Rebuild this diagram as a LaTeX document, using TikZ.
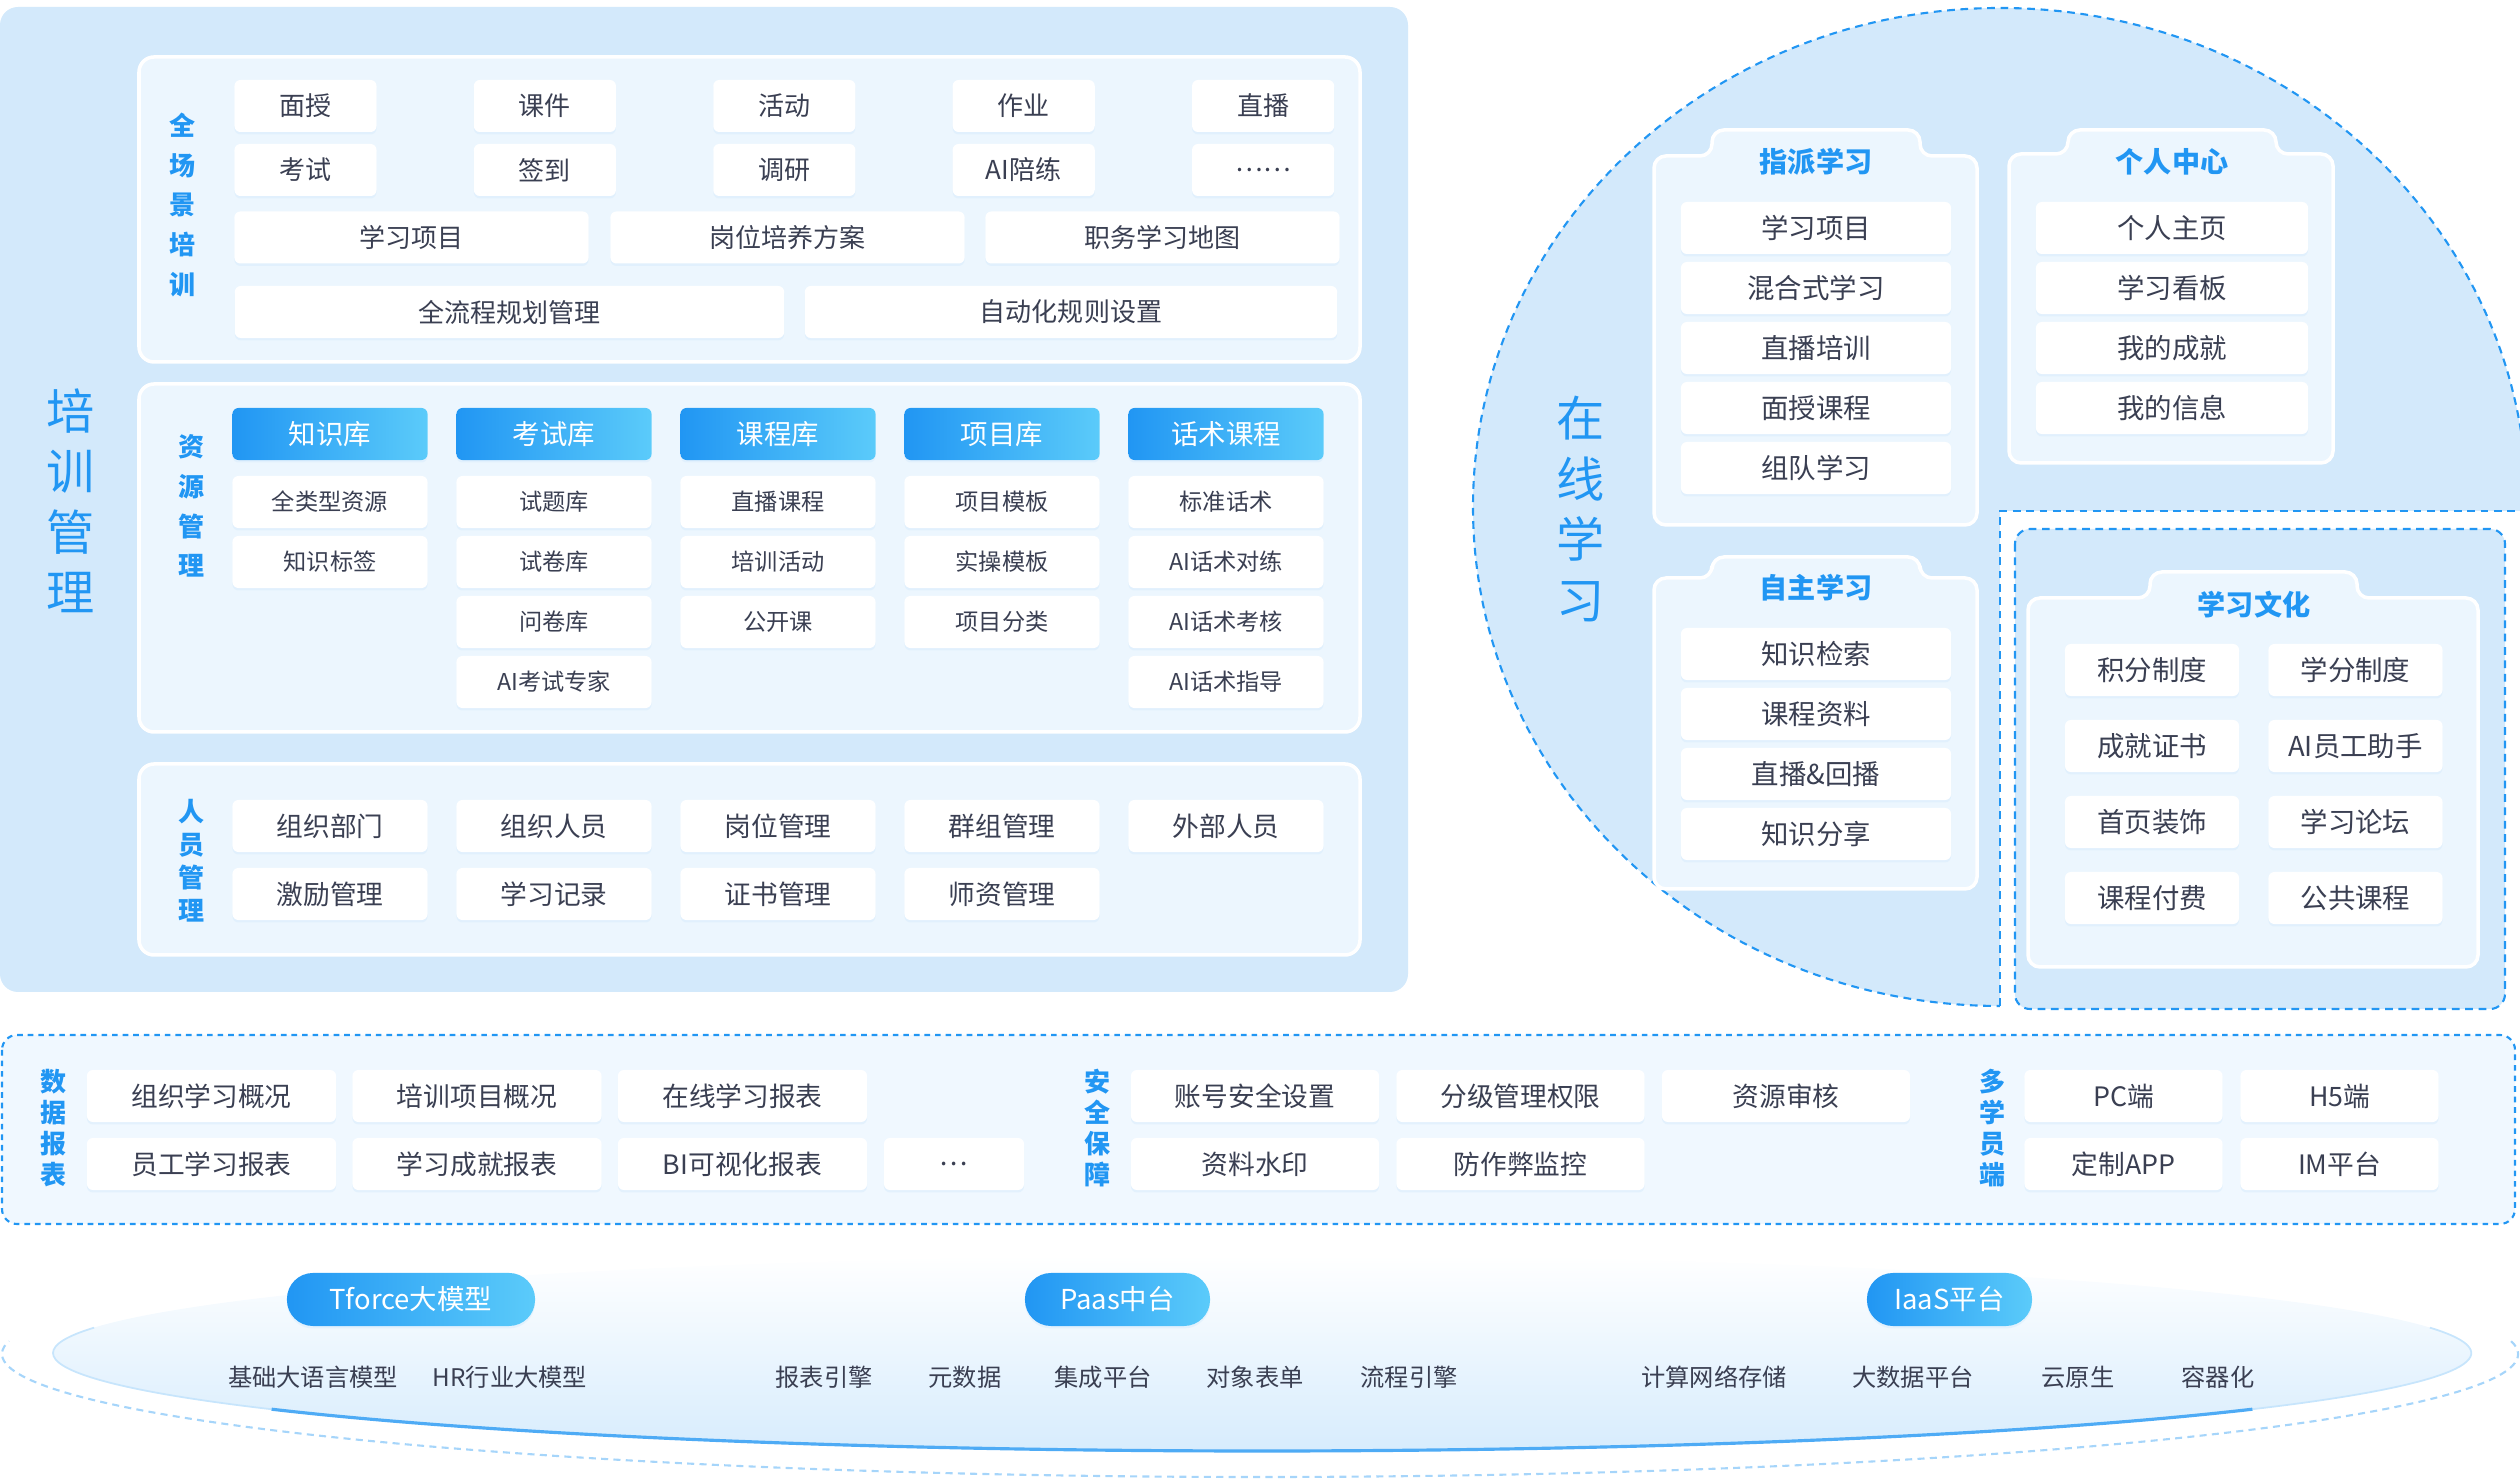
\documentclass[tikz,border=0pt]{standalone}
\usepackage{fontspec}
\setmainfont{Noto Sans CJK SC}
\usepackage{tikz}
\usetikzlibrary{positioning, shadows}
\definecolor{accent}{HTML}{2196F3}
\definecolor{accentlt}{HTML}{5BCBFA}
\definecolor{panel}{HTML}{D3E9FB}
\definecolor{cardbg}{HTML}{ECF6FE}
\definecolor{bandbg}{HTML}{F0F8FF}
\definecolor{ink}{HTML}{3A3F52}

\tikzset{
  itembox/.style={fill=white, rounded corners=0.06cm, text=ink, inner sep=0pt,
    minimum height=0.52cm, font=\fontsize{7.4}{8}\selectfont,
    drop shadow={shadow xshift=0pt, shadow yshift=-0.7pt, opacity=0.5, fill=accent!18}},
  headbox/.style={itembox, left color=accent, right color=accentlt, text=white,
    minimum width=1.95cm, font=\fontsize{7.8}{8}\selectfont},
  pill/.style={headbox, rounded corners=0.26cm, minimum height=0.53cm},
  panelbox/.style={fill=cardbg, draw=white, line width=1pt, rounded corners=0.15cm},
  tabcard/.style={panelbox, rounded corners=0.12cm},
  dline/.style={draw=accent, line width=0.6pt, dash pattern=on 2.2pt off 1.6pt},
  vlabel/.style={text=accent, align=center, font=\fontsize{7.4}{#1}\selectfont\bfseries},
  biglabel/.style={text=accent, align=center, font=\fontsize{13.7}{17.2}\selectfont},
  cardtitle/.style={text=accent, font=\fontsize{8}{9}\selectfont\bfseries},
  basetext/.style={text=ink, font=\fontsize{6.9}{8}\selectfont},
}

\begin{document}
\begin{tikzpicture}[x=0.01cm, y=-0.01cm]
  \useasboundingbox (0,0) rectangle (2520,1480);

  % Training management
  \fill[panel, rounded corners=0.18cm] (0,7) rectangle (1408,992);
  \node[biglabel] (train) at (71,501) {培\\训\\管\\理};
  \draw[panelbox] (139,57) rectangle (1360,362);
  \draw[panelbox] (139,384) rectangle (1360,732);
  \draw[panelbox] (139,764) rectangle (1360,955);

  % All-scenario training
  \node[vlabel=11.3] (scene) at (183,205) {全\\场\\景\\培\\训};
  \foreach \lbl [count=\i from 0] in {面授, 课件, 活动, 作业, 直播}
    \node[itembox, minimum width=1.42cm] (sa\i) at (305.5+239.4*\i,106) {\lbl};
  \foreach \lbl [count=\i from 0] in {考试, 签到, 调研, AI陪练, ……}
    \node[itembox, minimum width=1.42cm] (sb\i) at (305.5+239.4*\i,170) {\lbl};
  \foreach \lbl/\x [count=\i] in {学习项目/411.5, 岗位培养方案/787.5, 职务学习地图/1162.5}
    \node[itembox, minimum width=3.54cm] (sc\i) at (\x,237.5) {\lbl};
  \node[itembox, minimum width=5.49cm] (plan) at (509.5,312) {全流程规划管理};
  \node[itembox, minimum width=5.32cm] (rule) at (1071,312) {自动化规则设置};

  % Resource management
  \node[vlabel=11.3] (resl) at (192,506) {资\\源\\管\\理};
  \foreach \lbl [count=\i from 0] in {知识库, 考试库, 课程库, 项目库, 话术课程}
    \node[headbox] (lib\i) at (330+224*\i,434) {\lbl};
  \foreach \c/\list in {0/{全类型资源, 知识标签}, 1/{试题库, 试卷库, 问卷库, AI考试专家},
      2/{直播课程, 培训活动, 公开课}, 3/{项目模板, 实操模板, 项目分类},
      4/{标准话术, AI话术对练, AI话术考核, AI话术指导}}
    \foreach \lbl [count=\j] in \list
      \node[itembox, minimum width=1.95cm, font=\fontsize{6.6}{8}\selectfont] (res\c-\j) at (330+224*\c,442+60*\j) {\lbl};

  % People management
  \node[vlabel=9.4] (ppl) at (192,861) {人\\员\\管\\理};
  \foreach \lbl [count=\i from 0] in {组织部门, 组织人员, 岗位管理, 群组管理, 外部人员}
    \node[itembox, minimum width=1.95cm, font=\fontsize{7.6}{8}\selectfont] (pa\i) at (330+224*\i,826) {\lbl};
  \foreach \lbl [count=\i from 0] in {激励管理, 学习记录, 证书管理, 师资管理}
    \node[itembox, minimum width=1.95cm, font=\fontsize{7.6}{8}\selectfont] (pb\i) at (330+224*\i,894) {\lbl};

  % Online learning
  \draw[dline, fill=panel] (2000,507) ellipse (527 and 499);
  \fill[white] (2000,511) rectangle (2520,1012);
  \draw[dline] (2000,1006) -- (2000,511) -- (2520,511);
  \draw[dline, fill=panel, rounded corners=0.15cm] (2015,529) rectangle (2505,1009);
  \node[biglabel] (online) at (1581,509) {在\\线\\学\\习};
  \foreach \xa/\xb/\ta/\tb/\ya/\yb/\yc in {1654/1977/1712/1920/130/156/525, 2009/2333/2068/2276/130/154/463,
      1654/1977/1712/1920/557/578/889, 2028/2478/2150/2357/572/598/967}
    \draw[tabcard] (\xa,\yc) -- (\xa,\yb) -- (\ta,\yb) -- (\ta,\ya) -- (\tb,\ya) -- (\tb,\yb) -- (\xb,\yb) -- (\xb,\yc) -- cycle;
  \node[cardtitle] (assign) at (1816,162) {指派学习};
  \node[cardtitle] (personal) at (2172,162) {个人中心};
  \node[cardtitle] (selfstudy) at (1816,588) {自主学习};
  \node[cardtitle] (culture) at (2254,605) {学习文化};
  \foreach \lbl [count=\j from 0] in {学习项目, 混合式学习, 直播培训, 面授课程, 组队学习}
    \node[itembox, minimum width=2.70cm, font=\fontsize{7.8}{8}\selectfont] (as\j) at (1816,228+60*\j) {\lbl};
  \foreach \lbl [count=\j from 0] in {个人主页, 学习看板, 我的成就, 我的信息}
    \node[itembox, minimum width=2.72cm, font=\fontsize{7.8}{8}\selectfont] (pc\j) at (2172,228+60*\j) {\lbl};
  \foreach \lbl [count=\j from 0] in {知识检索, 课程资料, 直播\&回播, 知识分享}
    \node[itembox, minimum width=2.70cm, font=\fontsize{7.8}{8}\selectfont] (ss\j) at (1816,654+60*\j) {\lbl};
  \foreach \la/\lb [count=\j from 0] in {积分制度/学分制度, 成就证书/AI员工助手, 首页装饰/学习论坛, 课程付费/公共课程} {
    \node[itembox, minimum width=1.74cm, font=\fontsize{7.8}{8}\selectfont] (lc\j) at (2152,670+76*\j) {\la};
    \node[itembox, minimum width=1.74cm, font=\fontsize{7.8}{8}\selectfont] (rc\j) at (2355.5,670+76*\j) {\lb};
  }

  % Reports, security and terminals
  \draw[dline, fill=bandbg, rounded corners=0.15cm, dash pattern=on 1.6pt off 1.4pt] (2,1035) rectangle (2515,1224);
  \node[vlabel=8.8] (rep) at (54,1128) {数\\据\\报\\表};
  \node[vlabel=8.8] (sec) at (1098,1128) {安\\全\\保\\障};
  \node[vlabel=8.8] (term) at (1992,1128) {多\\学\\员\\端};
  \foreach \lbl [count=\i from 0] in {组织学习概况, 培训项目概况, 在线学习报表}
    \node[itembox, minimum width=2.49cm, font=\fontsize{7.6}{8}\selectfont] (ra\i) at (211.5+265.5*\i,1096) {\lbl};
  \foreach \lbl [count=\i from 0] in {员工学习报表, 学习成就报表, BI可视化报表}
    \node[itembox, minimum width=2.49cm, font=\fontsize{7.6}{8}\selectfont] (rb\i) at (211.5+265.5*\i,1164) {\lbl};
  \node[itembox, minimum width=1.40cm, font=\fontsize{7.6}{8}\selectfont] (rmore) at (954,1164) {…};
  \foreach \lbl [count=\i from 0] in {账号安全设置, 分级管理权限, 资源审核}
    \node[itembox, minimum width=2.48cm, font=\fontsize{7.6}{8}\selectfont] (sa\i) at (1255+265.5*\i,1096) {\lbl};
  \foreach \lbl [count=\i from 0] in {资料水印, 防作弊监控}
    \node[itembox, minimum width=2.48cm, font=\fontsize{7.6}{8}\selectfont] (sb\i) at (1255+265.5*\i,1164) {\lbl};
  \foreach \la/\lb [count=\j from 0] in {PC端/H5端, 定制APP/IM平台} {
    \node[itembox, minimum width=1.98cm, font=\fontsize{7.6}{8}\selectfont] (ta\j) at (2123.5,1096+68*\j) {\la};
    \node[itembox, minimum width=1.98cm, font=\fontsize{7.6}{8}\selectfont] (tb\j) at (2339.5,1096+68*\j) {\lb};
  }

  % Base platform
  \coordinate (base) at (1260,1354);
  \coordinate (plate) at (1262,1353);
  \draw[accent!40, line width=0.6pt, dash pattern=on 2pt off 1.5pt]
    ([shift={(-6:1258 and 123)}]base) arc[start angle=-6, end angle=186, x radius=1258, y radius=123];
  \shade[top color=white, bottom color=accent!18] (plate) ellipse (1209 and 98);
  \draw[accent!25, line width=0.5pt]
    ([shift={(-15:1209 and 98)}]plate) arc[start angle=-15, end angle=195, x radius=1209, y radius=98];
  \draw[accent!80, line width=0.9pt]
    ([shift={(35:1209 and 98)}]plate) arc[start angle=35, end angle=145, x radius=1209, y radius=98];
  \foreach \lbl/\x/\w [count=\i] in {Tforce大模型/411/2.48cm, Paas中台/1117.5/1.85cm, IaaS平台/1949.5/1.65cm}
    \node[pill, minimum width=\w] (pf\i) at (\x,1299.5) {\lbl};
  \foreach \lbl/\x [count=\i] in {基础大语言模型/313, HR行业大模型/510, 报表引擎/824, 元数据/965, 集成平台/1103,
      对象表单/1255, 流程引擎/1409, 计算网络存储/1714, 大数据平台/1913, 云原生/2078, 容器化/2218}
    \node[basetext] (bt\i) at (\x,1377) {\lbl};
\end{tikzpicture}
\end{document}
